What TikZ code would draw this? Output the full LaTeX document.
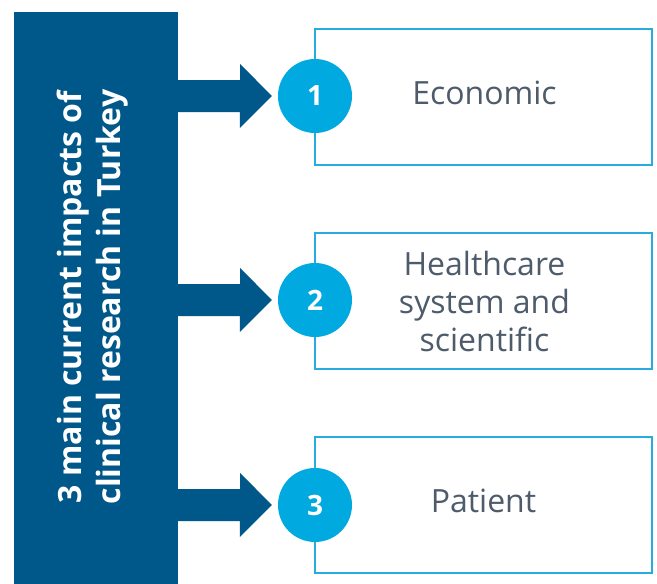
\documentclass[tikz,border=0pt]{standalone}
\usepackage{fontspec}
\setmainfont{Open Sans}
\usetikzlibrary{calc}
\definecolor{darkblue}{RGB}{0,87,138}
\definecolor{circblue}{RGB}{0,169,224}
\definecolor{boxblue}{RGB}{41,171,226}
\definecolor{txtgray}{RGB}{77,91,107}
\tikzset{
  mainbox/.style={fill=darkblue, minimum width=164pt, minimum height=572pt, inner sep=0pt},
  titletext/.style={rotate=90, text=white, font=\fontsize{32}{39}\selectfont\bfseries, align=center, inner sep=0pt},
  impactbox/.style={draw=boxblue, line width=2pt, fill=white, minimum width=337pt, minimum height=136pt, inner sep=0pt},
  impacttext/.style={text=txtgray, font=\fontsize{32}{38}\selectfont, align=center, inner sep=0pt},
  numcirc/.style={circle, fill=circblue, minimum size=74pt, inner sep=0pt, text=white, font=\fontsize{28}{30}\selectfont\bfseries},
  bigarrow/.style={fill=darkblue}
}
\begin{document}
\begin{tikzpicture}[x=1pt,y=-1pt]
\useasboundingbox (0,0) rectangle (657,584);
\node[mainbox] (main) at (96,298) {};
\node[titletext] (title) at (93,297) {3 main current impacts of\\clinical research in Turkey};
\node[impactbox] (b1) at (483.5,96.5) {};
\node[impactbox] (b2) at (483.5,301) {};
\node[impactbox] (b3) at (483.5,505) {};
\node[impacttext] (t1) at ($(b1.center)+(1,-4)$) {Economic};
\node[impacttext] (t2) at ($(b2.center)+(1,0)$) {Healthcare\\system and\\scientific};
\node[impacttext] (t3) at ($(b3.center)+(0,-4)$) {Patient};
\node[numcirc] (c1) at (315,96) {1};
\node[numcirc] (c2) at (315,300) {2};
\node[numcirc] (c3) at (315,505) {3};
\foreach \i in {1,2,3}{
  \fill[bigarrow] (main.east |- c\i) ++(0,-16) -- ++(62,0) -- ++(0,-16) -- ($(c\i.west)+(-6,0)$) -- ++(-32,32) -- ++(0,-16) -- ++(-62,0) -- cycle;
}
\end{tikzpicture}
\end{document}
